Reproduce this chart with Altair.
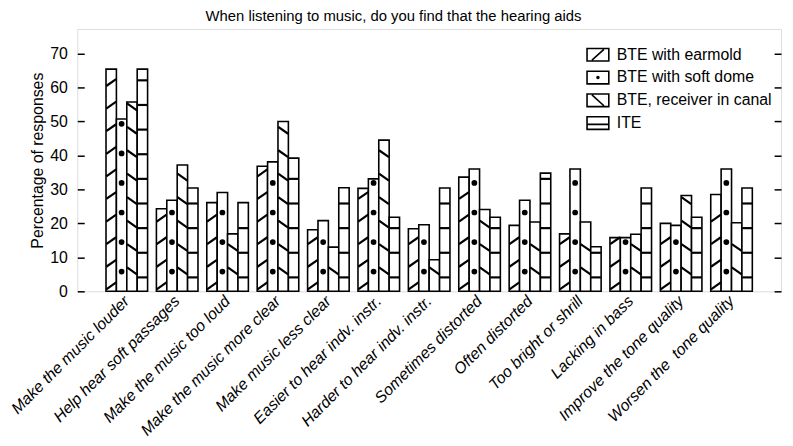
import altair as alt
import pandas as pd

# ---------------- data ----------------
categories = [
    "Make the music louder",
    "Help hear soft passages",
    "Make the music too loud",
    "Make the music more clear",
    "Make music less clear",
    "Easier to hear indv. instr.",
    "Harder to hear indv. instr.",
    "Sometimes distorted",
    "Often distorted",
    "Too bright or shrill",
    "Lacking in bass",
    "Improve the tone quality",
    "Worsen the \u00a0tone quality",
]
series_names = [
    "BTE with earmold",
    "BTE with soft dome",
    "BTE, receiver in canal",
    "ITE",
]
bte_earmold = [65.4, 24.3, 26.1, 36.8, 18.1, 30.3, 18.4, 33.6, 19.4, 16.9, 15.8, 20.0, 28.5]
bte_soft_dome = [50.7, 26.8, 29.1, 38.1, 20.8, 33.1, 19.6, 36.0, 26.8, 36.0, 15.8, 19.4, 36.0]
bte_ric = [55.7, 37.2, 16.9, 50.0, 13.0, 44.5, 9.3, 24.1, 20.4, 20.4, 16.8, 28.2, 20.2]
ite = [65.4, 30.4, 26.1, 39.2, 30.5, 21.8, 30.4, 21.8, 34.8, 13.1, 30.4, 21.8, 30.4]

values_by_series = dict(zip(series_names, [bte_earmold, bte_soft_dome, bte_ric, ite]))

# ---------------- hatch styling (pattern phase / spacing in data units) ----------------
hatch = {
    "BTE with earmold": dict(start=1.6, step=6.65, margin=0.8,
                             mark="M-1,0.7L1,-0.7",
                             legend="M-1,-0.58H1V0.58H-1Z M-0.55,0.5L0.55,-0.5"),
    "BTE with soft dome": dict(start=5.8, step=8.7, margin=0.7,
                               mark="M-0.36,0A0.36,0.36,0,1,1,0.36,0A0.36,0.36,0,1,1,-0.36,0Z",
                               legend="M-1,-0.58H1V0.58H-1Z M-0.09,0A0.09,0.09,0,1,1,0.09,0A0.09,0.09,0,1,1,-0.09,0Z"),
    "BTE, receiver in canal": dict(start=6.0, step=6.9, margin=0.8,
                                   mark="M-1,-0.7L1,0.7",
                                   legend="M-1,-0.58H1V0.58H-1Z M-0.55,-0.5L0.55,0.5"),
    "ITE": dict(start=4.1, step=7.25, margin=0.4,
                mark="M-1,0L1,0",
                legend="M-1,-0.58H1V0.58H-1Z M-1,0.12H1"),
}

rows = []
for s in series_names:
    for c, v in zip(categories, values_by_series[s]):
        rows.append({"category": c, "series": s, "value": v})
bars_df = pd.DataFrame(rows)

pat_rows = []
for s in series_names:
    h = hatch[s]
    for c, v in zip(categories, values_by_series[s]):
        k = 0
        while h["start"] + k * h["step"] + h["margin"] <= v:
            pat_rows.append({"category": c, "series": s, "pos": h["start"] + k * h["step"]})
            k += 1
pat_df = pd.DataFrame(pat_rows)

FONT = "Liberation Sans"

x_enc = alt.X(
    "category:N",
    sort=categories,
    scale=alt.Scale(paddingInner=0.175, paddingOuter=0.57),
    axis=alt.Axis(
        title=None, labelAngle=-45, labelAlign="right", labelBaseline="middle",
        labelFontStyle="italic", labelFontSize=16, ticks=False, domain=False,
        labelPadding=7, labelLimit=400, labelColor="black", labelFont=FONT,
    ),
)
xoff_enc = alt.XOffset("series:N", sort=series_names,
                       scale=alt.Scale(domain=series_names, paddingInner=0, paddingOuter=0))
y_scale = alt.Scale(domain=[0, 77.2], nice=False, zero=True)

bars = alt.Chart(bars_df).mark_bar(
    fill="white", stroke="black", strokeWidth=1.6
).encode(
    x=x_enc,
    xOffset=xoff_enc,
    y=alt.Y(
        "value:Q", scale=y_scale,
        axis=alt.Axis(
            values=[0, 10, 20, 30, 40, 50, 60, 70], offset=-7, tickSize=7,
            tickWidth=1.5, tickColor="black", domain=False, grid=False,
            labelPadding=10, labelFontSize=16, labelColor="black", labelFont=FONT,
            title="Percentage of responses", titleFontSize=16, titleFontWeight="normal",
            titleColor="black", titleFont=FONT, titlePadding=4,
        ),
    ),
)

patterns = alt.Chart(pat_df).mark_point(
    filled=True, fill="black", stroke="black", strokeWidth=2.2, size=100, opacity=1
).encode(
    x=alt.X("category:N", sort=categories),
    xOffset=xoff_enc,
    y=alt.Y(
        "pos:Q", scale=y_scale,
        axis=alt.Axis(
            orient="right", values=[0, 10, 20, 30, 40, 50, 60, 70], offset=-7,
            tickSize=7, tickWidth=1.5, tickColor="black", domain=False,
            grid=False, labels=False, title=None,
        ),
    ),
    shape=alt.Shape(
        "series:N",
        scale=alt.Scale(domain=series_names, range=[hatch[s]["mark"] for s in series_names]),
        legend=None,
    ),
)

legend_layer = alt.Chart(bars_df).mark_point(
    filled=False, stroke="black", color="black", strokeWidth=1.6, opacity=0
).encode(
    x=alt.X("category:N", sort=categories),
    xOffset=xoff_enc,
    y=alt.Y("value:Q", scale=y_scale, axis=None),
    shape=alt.Shape(
        "series:N",
        scale=alt.Scale(domain=series_names, range=[hatch[s]["legend"] for s in series_names]),
        legend=alt.Legend(
            title=None, orient="none", legendX=514, legendY=14,
            symbolSize=484, symbolOpacity=1, symbolStrokeWidth=1.6,
            symbolStrokeColor="black", symbolFillColor="transparent",
            labelFontSize=16, labelFont=FONT, labelColor="black",
            labelOffset=7, rowPadding=1, padding=0, labelLimit=400,
        ),
    ),
)

chart = alt.layer(bars, patterns, legend_layer).resolve_scale(
    shape="independent"
).resolve_axis(
    y="independent"
).properties(
    width=711,
    height=265,
    title=alt.TitleParams(
        "When listening to music, do you find that the hearing aids",
        fontSize=15, fontWeight="normal", font=FONT, color="black",
        anchor="middle", dx=-36, offset=5,
    ),
    autosize=alt.AutoSizeParams(type="none"),
    padding={"left": 70, "top": 19, "right": 4, "bottom": 152},
).configure_view(
    stroke="black", strokeWidth=1.6
).configure(
    font=FONT
)

chart.save("out.html", embed_options={"renderer": "svg", "actions": False})
